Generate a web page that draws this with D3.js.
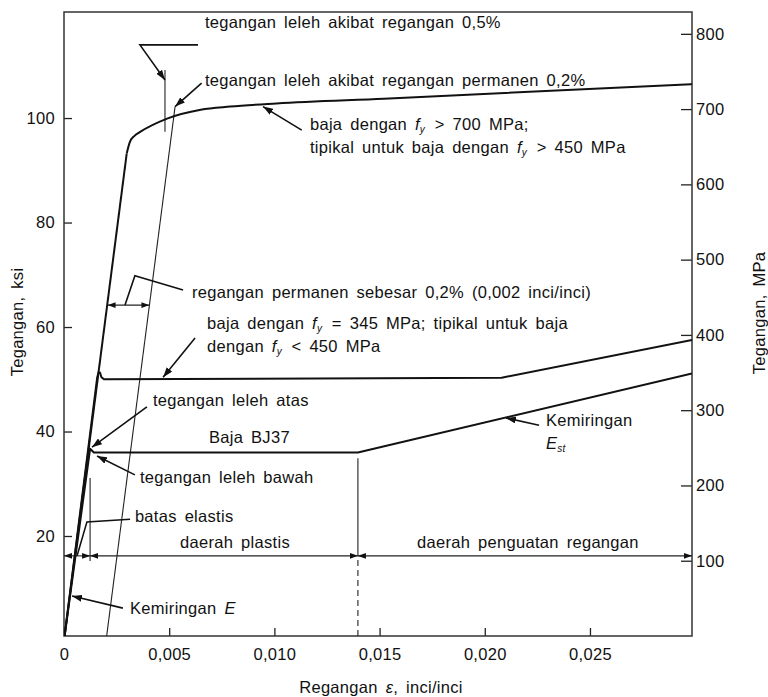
<!DOCTYPE html>
<html>
<head>
<meta charset="utf-8">
<script src="https://cdn.jsdelivr.net/npm/d3@7"></script>
<style>
body { margin: 0; background: #fff; }
svg text {
    font-family: "Liberation Sans", Arial, sans-serif;
    font-size: 16.5px;
    fill: #111;
    letter-spacing: 0.3px;
    word-spacing: 3px;
}
</style>
</head>
<body>
<div id="chart"></div>
<script>
// axis ticks
const strainTicks = [0, 0.005, 0.010, 0.015, 0.020, 0.025];
const ksiTicks = [20, 40, 60, 80, 100];
const mpaTicks = [100, 200, 300, 400, 500, 600, 700, 800];

// curves: [strain, stress ksi]
const highElastic = [[0, 0], [0.00298, 93.2]];
const highPlastic = [[0.00298, 93.2], [0.00312, 95.3], [0.00335, 96.6], [0.0036, 97.3], [0.0049, 99.9],
    [0.0065, 101.6], [0.0079, 102.2], [0.0101, 102.8], [0.0152, 103.7], [0.02985, 106.5]];
const midCurve = [[0, 0], [0.00158, 50.4], [0.00164, 51.3], [0.00171, 51.3], [0.00178, 50.4],
    [0.0019, 50.0], [0.0208, 50.3], [0.02985, 57.5]];
const bj37Curve = [[0, 0], [0.00124, 36.7], [0.00142, 36.0], [0.01397, 36.0], [0.02985, 51.1]];
const offsetLine = [[0.002, 0], [0.00528, 102.2]];

// guide lines
const guides = [
    { pts: [[0.00480, 97.4], [0.00480, 109.2]] },
    { pts: [[0.00124, 15.2], [0.00124, 31.1]] },
    { pts: [[0.01397, 16.2], [0.01397, 34.9]] },
    { pts: [[0.01397, 0.86], [0.01397, 16.2]], dash: true }
];

// dimension arrows (both ends)
const dims = [
    [[0.00207, 64.2], [0.00406, 64.2]],
    [[0, 16.2], [0.00124, 16.2]],
    [[0.00124, 16.2], [0.01397, 16.2]],
    [[0.01397, 16.2], [0.02985, 16.2]]
];

// leader lines
const leaders = [
    { pts: [[0.00637, 114.0], [0.00361, 114.0], [0.00480, 107.3]], arrow: true },
    { pts: [[0.00654, 106.7], [0.00528, 102.2]], arrow: true },
    { pts: [[0.01130, 97.7], [0.00946, 102.2]], arrow: true },
    { pts: [[0.00566, 67.1], [0.00337, 69.8], [0.00290, 64.2]], arrow: false },
    { pts: [[0.00623, 57.9], [0.00471, 50.4]], arrow: true },
    { pts: [[0.00394, 44.7], [0.00133, 37.0]], arrow: true },
    { pts: [[0.00337, 31.7], [0.00157, 35.3]], arrow: true },
    { pts: [[0.00314, 23.2], [0.00109, 22.7], [0.00062, 16.2]], arrow: false },
    { pts: [[0.00280, 6.2], [0.00038, 8.5]], arrow: true },
    { pts: [[0.02258, 41.2], [0.02101, 42.6]], arrow: true }
];

// labels: {x|sub} = italic with subscript
const notes = [
    { at: [0.00670, 118.4], text: 'tegangan leleh akibat regangan 0,5%' },
    { at: [0.00670, 107.3], text: 'tegangan leleh akibat regangan permanen 0,2%' },
    { at: [0.01169, 98.9], text: 'baja dengan {f|y} > 700 MPa;' },
    { at: [0.01169, 94.5], text: 'tipikal untuk baja dengan {f|y} > 450 MPa' },
    { at: [0.00608, 66.7], text: 'regangan permanen sebesar 0,2% (0,002 inci/inci)' },
    { at: [0.00680, 60.8], text: 'baja dengan {f|y} = 345 MPa; tipikal untuk baja' },
    { at: [0.00680, 56.4], text: 'dengan {f|y} < 450 MPa' },
    { at: [0.00423, 46.0], text: 'tegangan leleh atas' },
    { at: [0.00689, 39.0], text: 'Baja BJ37' },
    { at: [0.00361, 31.3], text: 'tegangan leleh bawah' },
    { at: [0.00337, 23.8], text: 'batas elastis' },
    { at: [0.00813, 18.9], text: 'daerah plastis', anchor: 'middle' },
    { at: [0.02205, 18.9], text: 'daerah penguatan regangan', anchor: 'middle' },
    { at: [0.00314, 6.2], text: 'Kemiringan {E|}' },
    { at: [0.02291, 42.2], text: 'Kemiringan' },
    { at: [0.02291, 37.8], text: '{E|st}' }
];

const width = 768, height = 697;
const svg = d3.select('#chart').append('svg')
    .attr('width', width)
    .attr('height', height);

const x = d3.scaleLinear().domain([0, 0.02985]).range([64, 692]);
const y = d3.scaleLinear().domain([0.86, 120.3]).range([636, 12]);
const yMpa = d3.scaleLinear().domain([0, 829]).range([636, 12]);

const defs = svg.append('defs');
defs.append('clipPath').attr('id', 'plot')
    .append('rect')
    .attr('x', x(0)).attr('y', y(120.3))
    .attr('width', x(0.02985) - x(0)).attr('height', y(0.86) - y(120.3));

function marker(id, len, half) {
    defs.append('marker')
        .attr('id', id)
        .attr('viewBox', `0 ${-half} ${len} ${half * 2}`)
        .attr('refX', len).attr('refY', 0)
        .attr('markerWidth', len).attr('markerHeight', half * 2)
        .attr('markerUnits', 'userSpaceOnUse')
        .attr('orient', 'auto-start-reverse')
        .append('path')
        .attr('d', `M0,${-half}L${len},0L0,${half}Z`)
        .attr('fill', '#111');
}
marker('arrow', 10, 3.5);
marker('dimArrow', 8, 2.8);

const line = d3.line().x(d => x(d[0])).y(d => y(d[1]));
const smooth = d3.line().x(d => x(d[0])).y(d => y(d[1])).curve(d3.curveMonotoneX);

// axes
svg.append('g')
    .attr('transform', `translate(0,${y(0.86)})`)
    .style('color', '#222')
    .call(d3.axisBottom(x).tickValues(strainTicks).tickSizeInner(-8).tickSizeOuter(0).tickPadding(12)
        .tickFormat(d => d === 0 ? '0' : d3.format('.3f')(d).replace('.', ',')))
    .call(g => g.select('.domain').remove());

svg.append('g')
    .attr('transform', `translate(${x(0)},0)`)
    .style('color', '#222')
    .call(d3.axisLeft(y).tickValues(ksiTicks).tickSizeInner(-8).tickSizeOuter(0).tickPadding(9))
    .call(g => g.select('.domain').remove());

svg.append('g')
    .attr('transform', `translate(${x(0.02985)},0)`)
    .style('color', '#222')
    .call(d3.axisRight(yMpa).tickValues(mpaTicks).tickSizeInner(-11).tickSizeOuter(0).tickPadding(4))
    .call(g => g.select('.domain').remove());

svg.selectAll('.tick line').attr('stroke-width', 1.3);

svg.append('rect')
    .attr('x', x(0)).attr('y', y(120.3))
    .attr('width', x(0.02985) - x(0)).attr('height', y(0.86) - y(120.3))
    .attr('fill', 'none')
    .attr('stroke', '#333')
    .attr('stroke-width', 1.5);

// text with italic symbols and subscripts
function rich(sel, str) {
    str.split(/(\{[^}]*\})/).filter(s => s.length).forEach(part => {
        if (part[0] === '{') {
            const [main, sub] = part.slice(1, -1).split('|');
            sel.append('tspan').style('font-style', 'italic').text(main);
            if (sub) {
                sel.append('tspan').style('font-style', 'italic').style('font-size', '10px')
                    .attr('dy', 3).text(sub);
                sel.append('tspan').attr('dy', -3).text('\u200a');
            }
        } else {
            sel.append('tspan').text(part);
        }
    });
}

svg.append('text')
    .attr('transform', 'translate(17,322) rotate(-90)')
    .attr('text-anchor', 'middle')
    .attr('dy', '0.35em')
    .text('Tegangan, ksi');

svg.append('text')
    .attr('transform', 'translate(759,313) rotate(-90)')
    .attr('text-anchor', 'middle')
    .attr('dy', '0.35em')
    .text('Tegangan, MPa');

svg.append('text')
    .attr('x', 381).attr('y', 687)
    .attr('text-anchor', 'middle')
    .attr('dy', '0.35em')
    .call(t => rich(t, 'Regangan {\u03b5|}, inci/inci'));

// curves
const plot = svg.append('g').attr('clip-path', 'url(#plot)');

plot.append('path').datum(offsetLine)
    .attr('d', line).attr('fill', 'none').attr('stroke', '#222').attr('stroke-width', 1.1);

guides.forEach(gd => {
    plot.append('path').datum(gd.pts)
        .attr('d', line).attr('fill', 'none').attr('stroke', '#222').attr('stroke-width', 1.1)
        .attr('stroke-dasharray', gd.dash ? '6,4' : null);
});

dims.forEach(d => {
    plot.append('path').datum(d)
        .attr('d', line).attr('fill', 'none').attr('stroke', '#222').attr('stroke-width', 1.1)
        .attr('marker-start', 'url(#dimArrow)')
        .attr('marker-end', 'url(#dimArrow)');
});

[highElastic, midCurve, bj37Curve].forEach(c => {
    plot.append('path').datum(c)
        .attr('d', line).attr('fill', 'none').attr('stroke', '#111')
        .attr('stroke-width', 2).attr('stroke-linejoin', 'round');
});
plot.append('path').datum(highPlastic)
    .attr('d', smooth).attr('fill', 'none').attr('stroke', '#111').attr('stroke-width', 2);

leaders.forEach(l => {
    svg.append('path').datum(l.pts)
        .attr('d', line).attr('fill', 'none').attr('stroke', '#111').attr('stroke-width', 1.6)
        .attr('marker-end', l.arrow ? 'url(#arrow)' : null);
});

notes.forEach(n => {
    svg.append('text')
        .attr('x', x(n.at[0])).attr('y', y(n.at[1]))
        .attr('dy', '0.35em')
        .attr('text-anchor', n.anchor || 'start')
        .call(t => rich(t, n.text));
});
</script>
</body>
</html>
